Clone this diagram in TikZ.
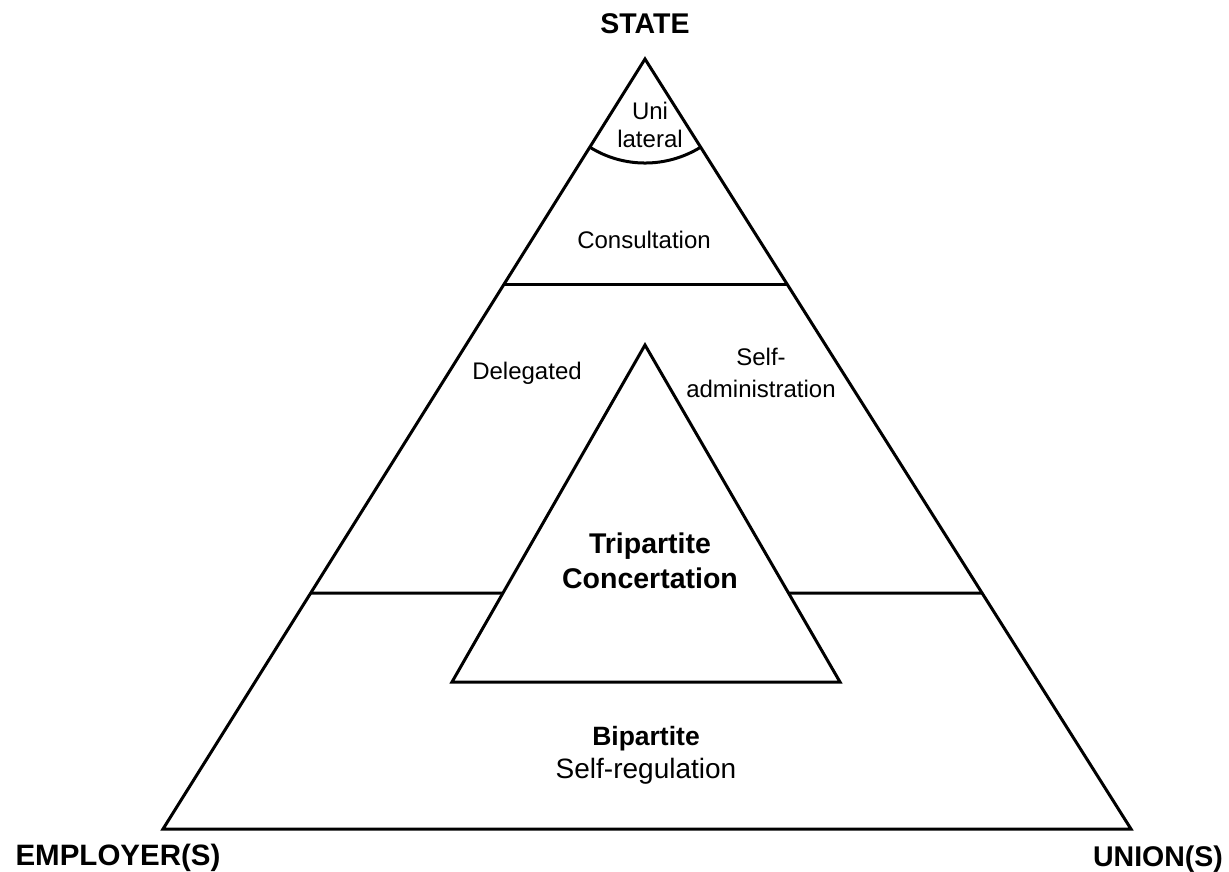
\documentclass[tikz,border=0pt]{standalone}
\usepackage{fontspec}
\setmainfont{Liberation Sans}
\usetikzlibrary{calc}

\begin{document}
\begin{tikzpicture}
    [
        x=1pt, y=-1pt,
        wall/.style={line width=3pt, line join=miter,},
        txt/.style={inner sep=0pt, anchor=base, font=\fontsize{24}{28}\selectfont,},
        head/.style={inner sep=0pt, anchor=base, font=\fontsize{28.5}{32}\selectfont\bfseries,},
    ]

    \useasboundingbox (0,0) rectangle (1229,871);

    % corners
    \coordinate (state) at (645,59);
    \coordinate (emp)   at (163,829);
    \coordinate (uni)   at (1131,829);

    \coordinate (top)   at (645,345);
    \coordinate (left)  at (452,682);
    \coordinate (right) at (840,682);

    % outer and inner triangle
    \draw [wall] (state) -- (emp) -- (uni) -- cycle;
    \draw [wall] (top) -- (left) -- (right) -- cycle;

    % bands
    \draw [wall] ($(state)!0.1145!(emp)$) .. controls (623.5,168.3) and (666.5,168.3) .. ($(state)!0.1145!(uni)$);
    \draw [wall] ($(state)!0.2922!(emp)$) -- ($(state)!0.2922!(uni)$);
    \draw [wall] ($(state)!0.6935!(emp)$) -- ($(top)!0.7359!(left)$);
    \draw [wall] ($(top)!0.7359!(right)$) -- ($(state)!0.6935!(uni)$);

    % corner labels
    \node (nstate) at (645,33)   [head] {STATE};
    \node (nemp)   at (118,865)  [head, font=\fontsize{29.5}{32}\selectfont\bfseries] {EMPLOYER(S)};
    \node (nuni)   at (1158,866) [head] {UNION(S)};

    % band labels
    \node (uni1)  at (650,119)  [txt] {Uni};
    \node (uni2)  at (650,147)  [txt] {lateral};
    \node (cons)  at (644,248)  [txt] {Consultation};
    \node (deleg) at (527,379)  [txt] {Delegated};
    \node (self1) at (761,365)  [txt] {Self-};
    \node (self2) at (761,397)  [txt] {administration};

    \node (tri1)  at (650,553)  [head] {Tripartite};
    \node (tri2)  at (650,588)  [head] {Concertation};

    \node (bip1)  at (646,745)  [head, font=\fontsize{26.5}{30}\selectfont\bfseries] {Bipartite};
    \node (bip2)  at (646,778)  [txt, font=\fontsize{28}{32}\selectfont] {Self-regulation};

\end{tikzpicture}
\end{document}
